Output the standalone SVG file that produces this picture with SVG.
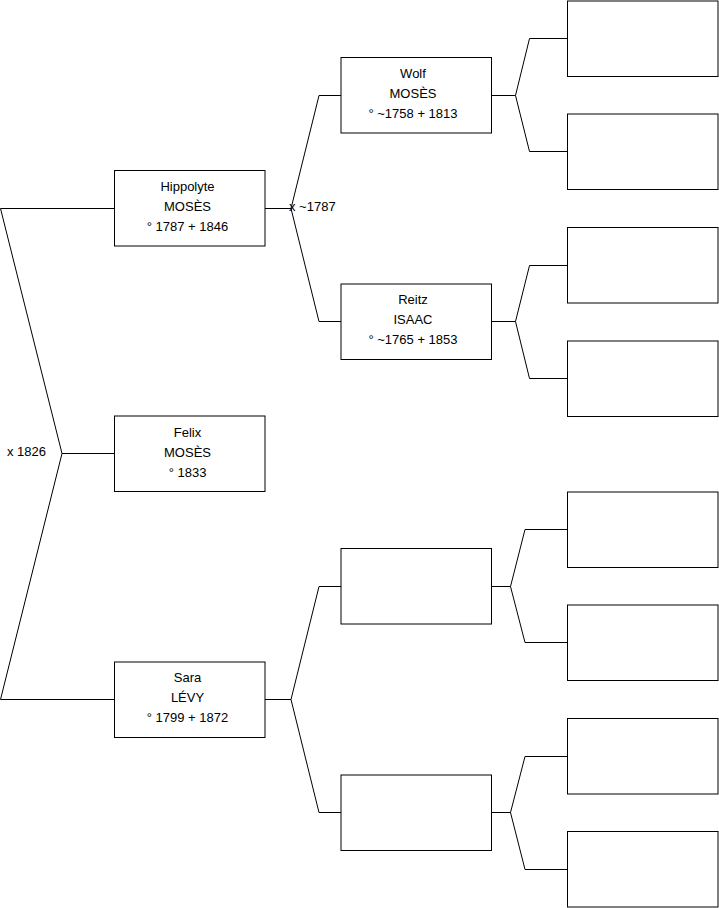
<svg xmlns="http://www.w3.org/2000/svg" width="719" height="908" viewBox="0 0 719 908">
<style>
.box{fill:#fff;stroke:#000;stroke-width:1}
.ln{fill:none;stroke:#000;stroke-width:1}
text{font-family:"Liberation Sans",Arial,sans-serif;font-size:13px;fill:#000}
.c{text-anchor:middle}
</style>
<rect width="719" height="908" fill="#fff"/>
<g id="connectors">
<polyline class="ln" points="114,208.5 0.5,208.5 62,453.5 0.5,699.5 114,699.5"/>
<line class="ln" x1="62" y1="453.5" x2="114" y2="453.5"/>
<polyline class="ln" points="341,95.5 319,95.5 291,208.5 319,321.5 341,321.5"/>
<line class="ln" x1="265" y1="208.5" x2="291" y2="208.5"/>
<polyline class="ln" points="341,586.5 319,586.5 291,699.5 319,812.5 341,812.5"/>
<line class="ln" x1="265" y1="699.5" x2="291" y2="699.5"/>
<polyline class="ln" points="567,38.5 529.5,38.5 515.5,95.5 529.5,151.5 567,151.5"/>
<line class="ln" x1="492" y1="95.5" x2="515.5" y2="95.5"/>
<polyline class="ln" points="567,265.5 529.5,265.5 515.5,321.5 529.5,378.5 567,378.5"/>
<line class="ln" x1="492" y1="321.5" x2="515.5" y2="321.5"/>
<polyline class="ln" points="567,529.5 525,529.5 510.5,586.5 525,642.5 567,642.5"/>
<line class="ln" x1="492" y1="586.5" x2="510.5" y2="586.5"/>
<polyline class="ln" points="567,756.5 525,756.5 510.5,812.5 525,869.5 567,869.5"/>
<line class="ln" x1="492" y1="812.5" x2="510.5" y2="812.5"/>
<text x="7" y="455.5">x 1826</text>
<text x="289" y="211">x ~1787</text>
</g>
<g id="hippolyte">
<rect class="box" x="114.5" y="170.5" width="150.5" height="75.5"/>
<text class="c" x="187.5" y="190.5">Hippolyte</text>
<text class="c" x="187.5" y="210.5">MOSÈS</text>
<text class="c" x="187.5" y="230.5">° 1787 + 1846</text>
</g>
<g id="felix">
<rect class="box" x="114.5" y="416" width="150.5" height="75.5"/>
<text class="c" x="187.5" y="436.5">Felix</text>
<text class="c" x="187.5" y="456.5">MOSÈS</text>
<text class="c" x="187.5" y="476.5">° 1833</text>
</g>
<g id="sara">
<rect class="box" x="114.5" y="662" width="150.5" height="75.5"/>
<text class="c" x="187.5" y="681.5">Sara</text>
<text class="c" x="187.5" y="701.5">LÉVY</text>
<text class="c" x="187.5" y="721.5">° 1799 + 1872</text>
</g>
<g id="wolf">
<rect class="box" x="341" y="57.5" width="150.5" height="75.5"/>
<text class="c" x="413" y="77.5">Wolf</text>
<text class="c" x="413" y="97.5">MOSÈS</text>
<text class="c" x="413" y="117.5">° ~1758 + 1813</text>
</g>
<g id="reitz">
<rect class="box" x="341" y="284" width="150.5" height="75.5"/>
<text class="c" x="413" y="303.5">Reitz</text>
<text class="c" x="413" y="323.5">ISAAC</text>
<text class="c" x="413" y="343.5">° ~1765 + 1853</text>
</g>
<g id="sara-father"><rect class="box" x="341" y="548.5" width="150.5" height="75.5"/></g>
<g id="sara-mother"><rect class="box" x="341" y="775" width="150.5" height="75.5"/></g>
<g id="wolf-father"><rect class="box" x="567.5" y="1" width="150.5" height="75.5"/></g>
<g id="wolf-mother"><rect class="box" x="567.5" y="114" width="150.5" height="75.5"/></g>
<g id="reitz-father"><rect class="box" x="567.5" y="227.5" width="150.5" height="75.5"/></g>
<g id="reitz-mother"><rect class="box" x="567.5" y="341" width="150.5" height="75.5"/></g>
<g id="sf-father"><rect class="box" x="567.5" y="492" width="150.5" height="75.5"/></g>
<g id="sf-mother"><rect class="box" x="567.5" y="605" width="150.5" height="75.5"/></g>
<g id="sm-father"><rect class="box" x="567.5" y="718.5" width="150.5" height="75.5"/></g>
<g id="sm-mother"><rect class="box" x="567.5" y="831.5" width="150.5" height="75.5"/></g>
</svg>
